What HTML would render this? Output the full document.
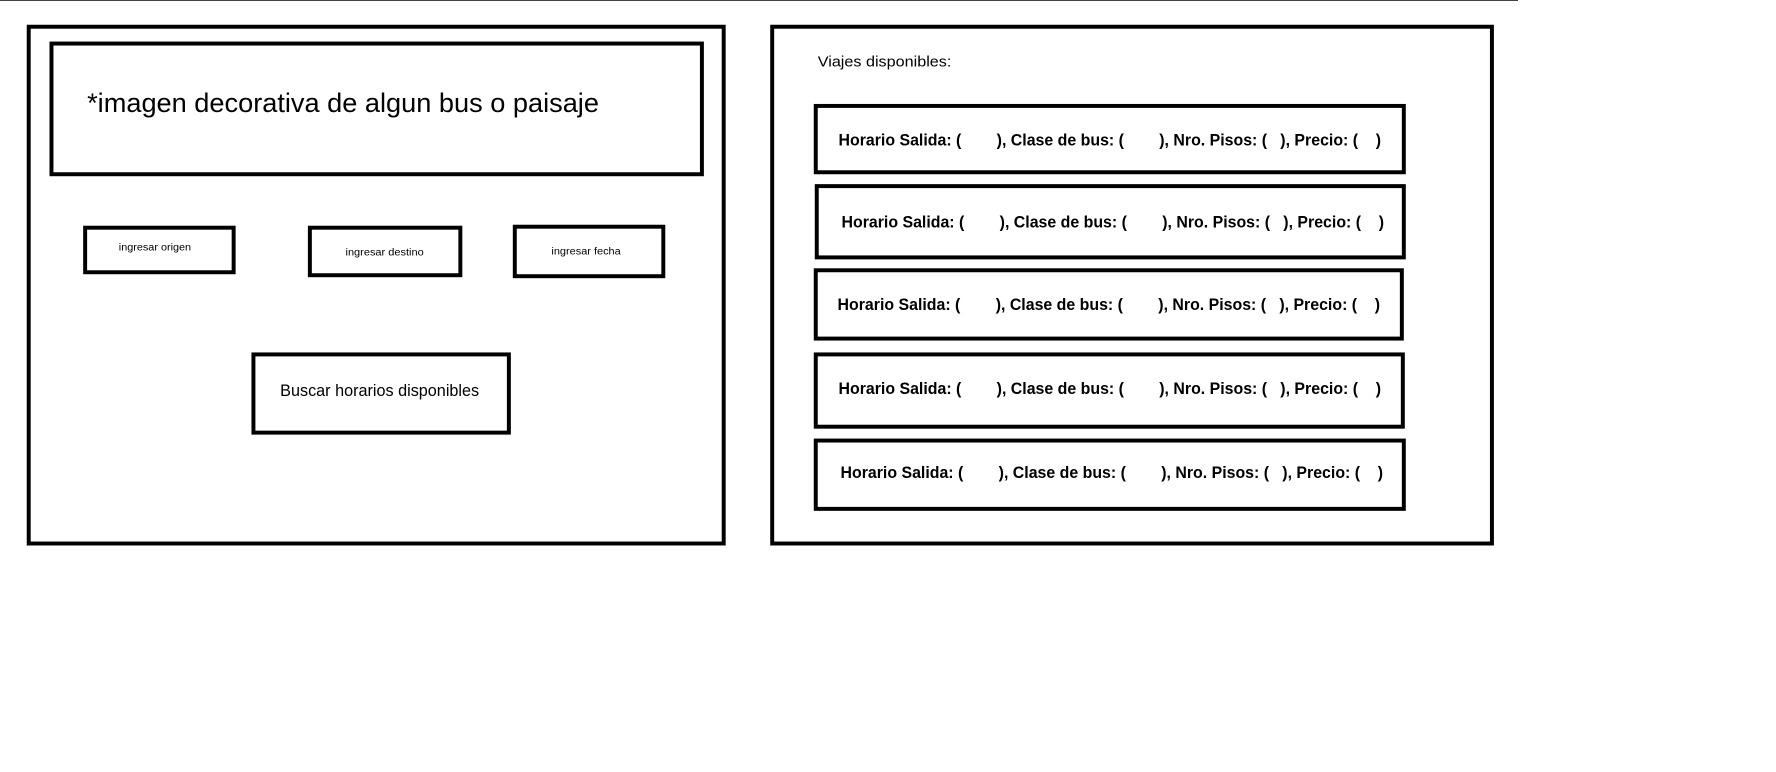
<!DOCTYPE html>
<html><head><meta charset="utf-8"><style>
html,body{margin:0;padding:0;background:#fff;width:1776px;height:772px;overflow:hidden}
svg{display:block}
text{font-family:"Liberation Sans",sans-serif;fill:#000;white-space:pre}
</style></head><body>
<svg width="1776" height="772" viewBox="0 0 1776 772" xmlns="http://www.w3.org/2000/svg">
<line x1="0" y1="0.5" x2="1518" y2="0.5" stroke="#444" stroke-width="1"/>
<g transform="scale(0.99)">
<g fill="none" stroke="#000" stroke-width="4">
<rect x="29" y="27" width="702" height="522"/>
<rect x="52" y="44" width="657" height="132"/>
<rect x="86" y="230" width="150" height="45"/>
<rect x="313" y="230" width="152" height="48"/>
<rect x="520" y="229" width="150" height="50"/>
<rect x="256" y="358" width="258" height="79"/>
<rect x="780" y="27" width="727" height="522"/>
<rect x="824" y="107" width="594" height="67"/>
<rect x="825" y="188" width="593" height="72"/>
<rect x="824" y="273" width="592" height="69"/>
<rect x="824" y="358" width="593" height="73"/>
<rect x="824" y="445" width="594" height="69"/>
</g>
<text x="88" y="113" font-size="27" textLength="517" lengthAdjust="spacingAndGlyphs">*imagen decorativa de algun bus o paisaje</text>
<text x="120" y="253" font-size="10" textLength="73" lengthAdjust="spacingAndGlyphs">ingresar origen</text>
<text x="349" y="258" font-size="10" textLength="79" lengthAdjust="spacingAndGlyphs">ingresar destino</text>
<text x="557" y="257" font-size="10" textLength="70" lengthAdjust="spacingAndGlyphs">ingresar fecha</text>
<text x="283" y="400" font-size="17" textLength="201" lengthAdjust="spacingAndGlyphs">Buscar horarios disponibles</text>
<text x="826" y="67" font-size="15" textLength="135" lengthAdjust="spacingAndGlyphs">Viajes disponibles:</text>
<g font-size="17" font-weight="bold">
<text x="847" y="147" textLength="548" lengthAdjust="spacingAndGlyphs">Horario Salida: (        ), Clase de bus: (        ), Nro. Pisos: (   ), Precio: (    )</text>
<text x="850" y="230" textLength="548" lengthAdjust="spacingAndGlyphs">Horario Salida: (        ), Clase de bus: (        ), Nro. Pisos: (   ), Precio: (    )</text>
<text x="846" y="313" textLength="548" lengthAdjust="spacingAndGlyphs">Horario Salida: (        ), Clase de bus: (        ), Nro. Pisos: (   ), Precio: (    )</text>
<text x="847" y="398" textLength="548" lengthAdjust="spacingAndGlyphs">Horario Salida: (        ), Clase de bus: (        ), Nro. Pisos: (   ), Precio: (    )</text>
<text x="849" y="483" textLength="548" lengthAdjust="spacingAndGlyphs">Horario Salida: (        ), Clase de bus: (        ), Nro. Pisos: (   ), Precio: (    )</text>
</g>
</g>
</svg>
</body></html>
